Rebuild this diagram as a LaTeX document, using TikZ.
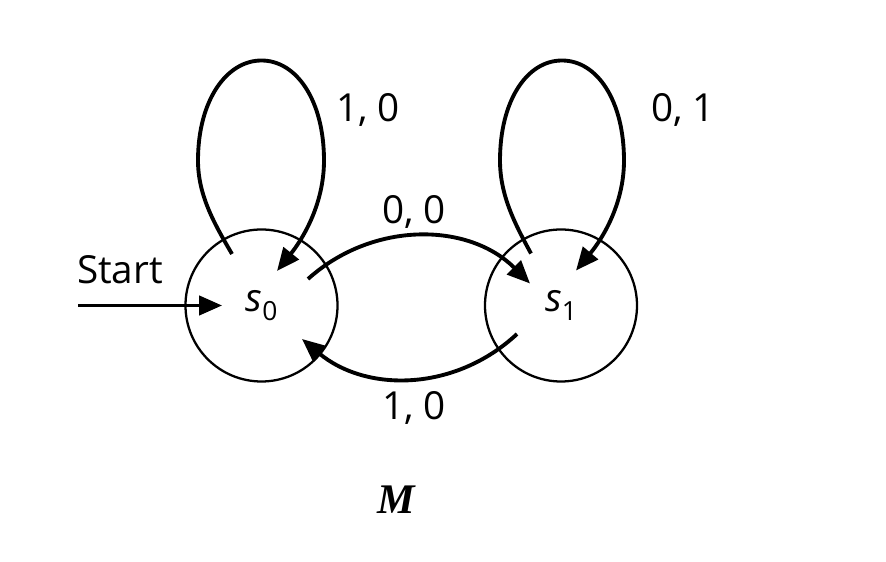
\documentclass[tikz,border=0pt]{standalone}
\usepackage{fontspec}
\setmainfont{Open Sans}
\newfontfamily\machinefont{Liberation Serif}
\usetikzlibrary{arrows.meta, positioning, calc}

\begin{document}
\begin{tikzpicture}[
    state/.style={draw, circle, line width=1.3pt, minimum size=3.04cm,
                  inner sep=0pt, font=\fontsize{22}{24}\selectfont},
    trans/.style={->, line width=2.2pt},
    lbl/.style={font=\fontsize{22}{24}\selectfont},
    >={Triangle[length=13pt, width=11pt]}
  ]
  \useasboundingbox (0,0) rectangle (17.72,11.24);

  \node[state] (s0) at (5.23,5.13) {\textit{s}\raisebox{-0.45ex}{\fontsize{15}{16}\selectfont 0}};
  \node[state] (s1) at (11.22,5.13) {\textit{s}\raisebox{-0.45ex}{\fontsize{15}{16}\selectfont 1}};
  \coordinate (start) at (1.56,5.13);

  % start arrow
  \node[lbl] (startlbl) at (2.4,5.84) {Start};
  \draw[->, line width=1.8pt] (start) -- ($(s0)+(-0.79,0)$);

  % self loops
  \draw[trans] ($(s0)+(-0.59,1.03)$)
    .. controls ($(s0)+(-0.94,1.63)$) and ($(s0)+(-1.27,2.2)$) .. ($(s0)+(-1.27,2.9)$)
    .. controls ($(s0)+(-1.27,4.1)$) and ($(s0)+(-0.7,4.9)$) .. ($(s0)+(0,4.9)$)
    .. controls ($(s0)+(0.7,4.9)$) and ($(s0)+(1.25,4.1)$) .. ($(s0)+(1.25,2.9)$)
    .. controls ($(s0)+(1.25,2.0)$) and ($(s0)+(0.8,1.3)$) .. ($(s0)+(0.31,0.69)$);
  \draw[trans] ($(s1)+(-0.6,1.04)$)
    .. controls ($(s1)+(-0.92,1.63)$) and ($(s1)+(-1.22,2.2)$) .. ($(s1)+(-1.22,2.9)$)
    .. controls ($(s1)+(-1.22,4.1)$) and ($(s1)+(-0.68,4.9)$) .. ($(s1)+(0.02,4.9)$)
    .. controls ($(s1)+(0.72,4.9)$) and ($(s1)+(1.26,4.1)$) .. ($(s1)+(1.26,2.9)$)
    .. controls ($(s1)+(1.26,2.0)$) and ($(s1)+(0.8,1.3)$) .. ($(s1)+(0.3,0.7)$);
  \node[lbl] (l10a) at (7.36,9.04) {1, 0};
  \node[lbl] (l01) at (13.66,9.04) {0, 1};

  % between the states
  \draw[trans] ($(s0)+(0.93,0.53)$) to[out=42, in=135] ($(s1)+(-0.62,0.44)$);
  \draw[trans] ($(s1)+(-0.88,-0.57)$) to[out=223, in=320] ($(s0)+(0.81,-0.67)$);
  \node[lbl] (l00) at (8.28,7.0) {0, 0};
  \node[lbl] (l10b) at (8.28,3.08) {1, 0};

  \node[font=\machinefont\bfseries\itshape\fontsize{24}{26}\selectfont] (mlbl) at (7.92,1.24) {M};
\end{tikzpicture}
\end{document}
